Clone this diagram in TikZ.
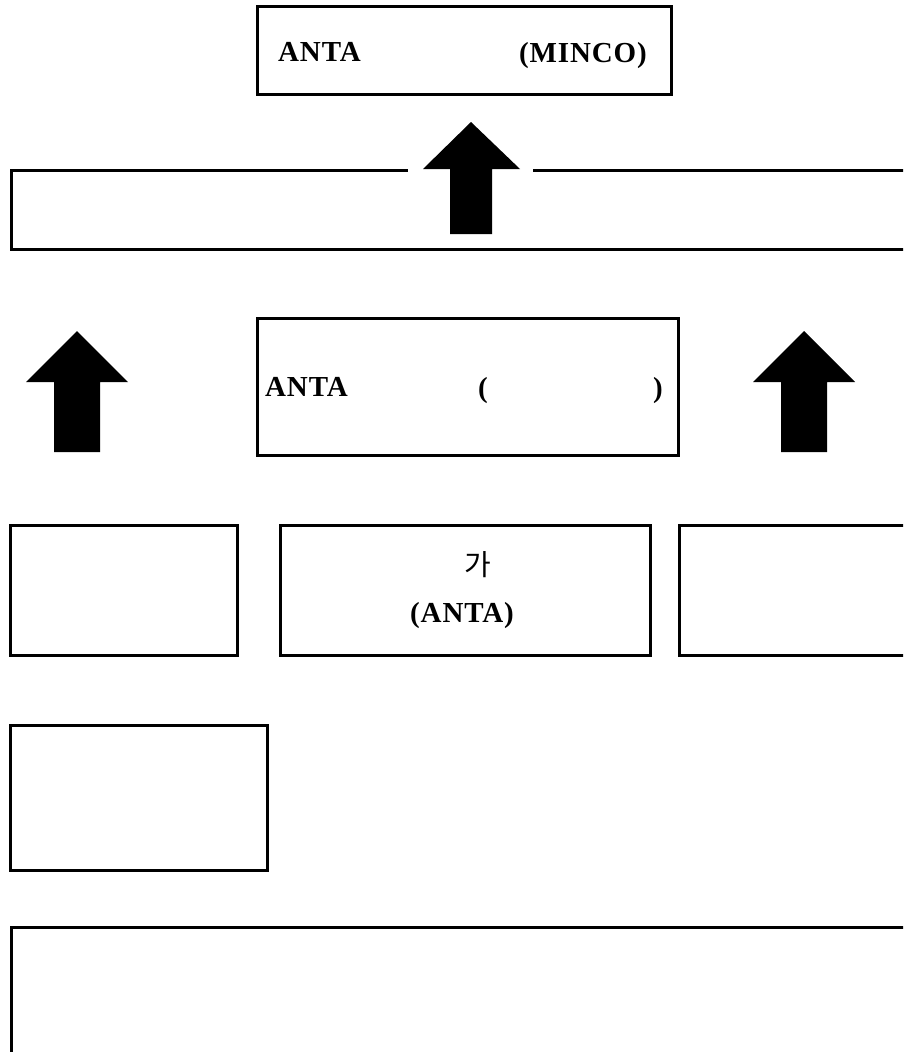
\documentclass[tikz,border=0pt]{standalone}
\usepackage{fontspec}
\setmainfont{Liberation Serif}
\newfontfamily\krfont{Noto Sans CJK KR}
\newfontfamily\spaced[LetterSpace=3]{Liberation Serif}

\tikzset{
	orgbox/.style={draw, line width=2.6pt, inner sep=0pt, anchor=north west},
	lbl/.style={font=\fontsize{29}{32}\spaced\bfseries, inner sep=0pt, anchor=base west},
	krlbl/.style={font=\fontsize{29}{32}\krfont, inner sep=0pt, anchor=base west}
}

\begin{document}
\begin{tikzpicture}[x=1pt,y=-1pt]
		\clip (0,0) rectangle (903,1052);
		\fill[white] (0,0) rectangle (903,1052);
		% boxes
		\node[orgbox, minimum width=414pt, minimum height=88pt] (minco) at (256,5) {};
		\node[orgbox, minimum width=910pt, minimum height=79pt] (band) at (10,169) {};
		\node[orgbox, minimum width=421pt, minimum height=137pt] (anta) at (256,317) {};
		\node[orgbox, minimum width=227pt, minimum height=130pt] (left) at (9,524) {};
		\node[orgbox, minimum width=370pt, minimum height=130pt] (centre) at (279,524) {};
		\node[orgbox, minimum width=240pt, minimum height=130pt] (right) at (678,524) {};
		\node[orgbox, minimum width=257pt, minimum height=145pt] (lower) at (9,724) {};
		\node[orgbox, minimum width=910pt, minimum height=150pt] (bottom) at (10,926) {};
		% texts
		\node[lbl] (mincoa) at (278,61) {ANTA};
		\node[lbl] (mincob) at (519,62) {(MINCO)};
		\node[lbl] (antaa) at (265,396) {ANTA};
		\node[lbl] (antab) at (478,397) {(};
		\node[lbl] (antac) at (653,397) {)};
		\node[krlbl] (centrea) at (464,575) {가};
		\node[lbl] (centreb) at (410,622) {(ANTA)};
		% arrows
		\fill[white] (408,163) rectangle (533,175);
		\fill (450,234) -- (450,169) -- (423,169) -- (471,122) -- (520,169)
			-- (492,169) -- (492,234) -- cycle;
		\foreach \cx in {77,804}
		{
			\fill (\cx-23,452) -- (\cx-23,382) -- (\cx-51,382) -- (\cx,331)
				-- (\cx+51,382) -- (\cx+23,382) -- (\cx+23,452) -- cycle;
		}
	\end{tikzpicture}
\end{document}
